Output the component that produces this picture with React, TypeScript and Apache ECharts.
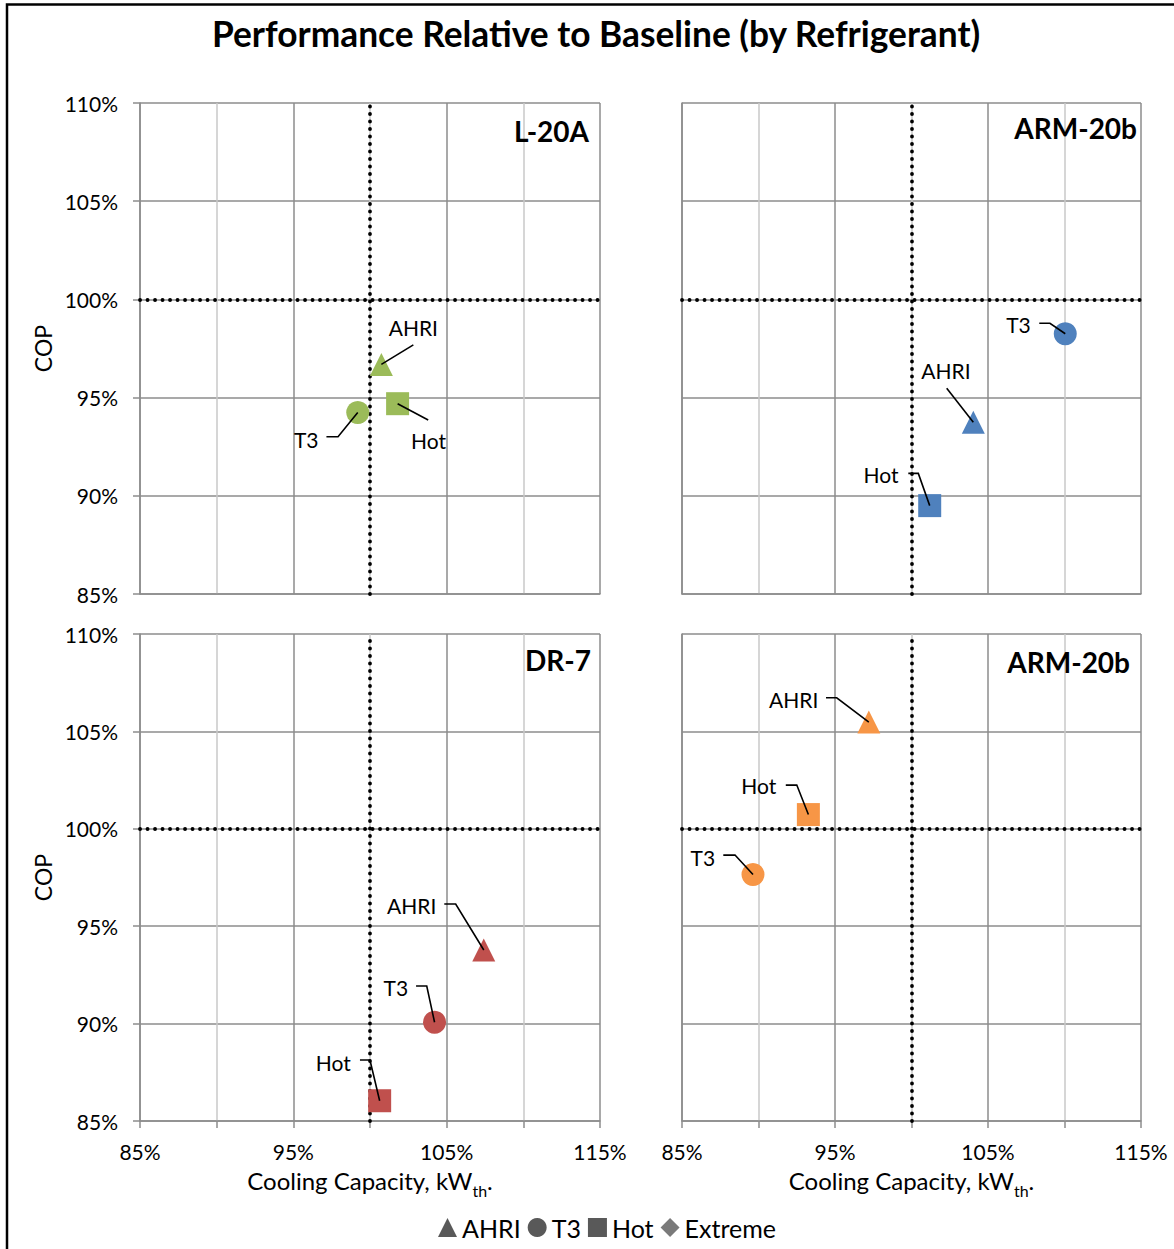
import React, { useEffect, useRef } from 'react';
import * as echarts from 'echarts';

// ---------- data ----------
const conditions = ['AHRI', 'T3', 'Hot'];
const conditionSymbols = ['triangle', 'circle', 'rect'];
const refrigerants = ['L-20A', 'ARM-20b', 'DR-7', 'ARM-20b'];
const panelColors = ['#9BBB59', '#4F81BD', '#C0504D', '#F79646'];

// values per condition, order [AHRI, T3, Hot]
const capacityL20A = [100.74, 99.2, 101.8];
const copL20A = [96.69, 94.24, 94.69];
const capacityARM20bTop = [104.04, 110.05, 101.19];
const copARM20bTop = [93.75, 98.25, 89.5];
const capacityDR7 = [107.42, 104.21, 100.63];
const copDR7 = [93.78, 90.07, 86.04];
const capacityARM20bBottom = [97.21, 89.64, 93.26];
const copARM20bBottom = [105.48, 97.65, 100.73];

const xLabelTicks = [85, 95, 105, 115];
const yLabelTicks = [85, 90, 95, 100, 105, 110];
const legendItems = ['AHRI', 'T3', 'Hot', 'Extreme'];
const legendIcons = ['triangle', 'circle', 'rect', 'diamond'];

const panelCapacity = [capacityL20A, capacityARM20bTop, capacityDR7, capacityARM20bBottom];
const panelCop = [copL20A, copARM20bTop, copDR7, copARM20bBottom];

// ---------- layout / style ----------
const FONT = 'Lato';
const grids = [
  { left: 140, top: 103, width: 460, height: 491 },
  { left: 682, top: 103, width: 459, height: 491 },
  { left: 140, top: 634, width: 460, height: 487 },
  { left: 682, top: 634, width: 459, height: 487 },
];
const panelTitlePos = [
  { right: 585, top: 117 },
  { right: 37, top: 114 },
  { right: 583, top: 646 },
  { right: 44, top: 648 },
];
// label offsets (px) relative to marker, and leader polyline points relative to marker
const labelLayouts = [
  [
    { dx: 32, dy: -37, line: [[32, -19.5], [0, 0]] },
    { dx: -51.5, dy: 26.5, line: [[-31.3, 24.2], [-19.7, 24.2], [0, 0]] },
    { dx: 31, dy: 37, line: [[30.6, 16.3], [0, 0]] },
  ],
  [
    { dx: -27.3, dy: -51.4, line: [[-26.6, -33.9], [0, 0]] },
    { dx: -46.8, dy: -9.3, line: [[-26, -10.5], [-15.3, -10.5], [0, 0]] },
    { dx: -48.7, dy: -30.8, line: [[-21.4, -32.2], [-11.4, -32.2], [0, 0]] },
  ],
  [
    { dx: -72.1, dy: -44.2, line: [[-39.5, -46], [-28.1, -46], [0, 0]] },
    { dx: -38.7, dy: -35, line: [[-18.5, -36.2], [-7.8, -36.2], [0, 0]] },
    { dx: -46.4, dy: -38.3, line: [[-19.7, -40.8], [-9.7, -40.8], [0, 0]] },
  ],
  [
    { dx: -75.1, dy: -22.8, line: [[-42.8, -24.3], [-32.1, -24.3], [0, 0]] },
    { dx: -50.2, dy: -17.5, line: [[-29.7, -19.5], [-18, -19.5], [0, 0]] },
    { dx: -49.6, dy: -28.7, line: [[-22.6, -29.5], [-11.6, -29.5], [0, 0]] },
  ],
];

const GRID_DARK = '#8c8c8c';
const GRID_LIGHT = '#c8c8c8';

function buildOption() {
  const xAxis: any[] = [];
  const yAxis: any[] = [];
  const series: any[] = [];
  const titles: any[] = [
    {
      text: 'Performance Relative to Baseline (by Refrigerant)',
      left: 212,
      top: 16,
      padding: 0,
      textStyle: { fontFamily: FONT, fontSize: 35.3, fontWeight: 'bold', color: '#000' },
    },
  ];

  grids.forEach((g, i) => {
    const bottomRow = i >= 2;
    const leftCol = i % 2 === 0;
    xAxis.push({
      gridIndex: i,
      type: 'value',
      min: 85,
      max: 115,
      interval: 5,
      axisLine: { show: true, lineStyle: { color: GRID_DARK, width: 1.5 } },
      axisTick: { show: bottomRow, length: 7, lineStyle: { color: GRID_DARK, width: 1.5 } },
      axisLabel: {
        show: bottomRow,
        margin: 20,
        fontFamily: FONT,
        fontSize: 21,
        color: '#000',
        formatter: (v: number) => (xLabelTicks.indexOf(Math.round(v)) >= 0 ? Math.round(v) + '%' : ''),
      },
      splitLine: { show: true, lineStyle: { color: [GRID_DARK, GRID_LIGHT], width: 1.5 } },
      name: bottomRow ? '{a|Cooling Capacity, kW}{b|th}{a|.}' : '',
      nameLocation: 'middle',
      nameGap: 47,
      nameTextStyle: {
        rich: {
          a: { fontFamily: FONT, fontSize: 24, color: '#000', lineHeight: 28, verticalAlign: 'top' },
          b: { fontFamily: FONT, fontSize: 16, color: '#000', lineHeight: 19, verticalAlign: 'top', padding: [14, 0, 0, 0] },
        },
      },
    });
    yAxis.push({
      gridIndex: i,
      type: 'value',
      min: 85,
      max: 110,
      interval: 5,
      axisLine: { show: true, lineStyle: { color: GRID_DARK, width: 1.5 } },
      axisTick: { show: leftCol, length: 7, lineStyle: { color: GRID_DARK, width: 1.5 } },
      axisLabel: {
        show: leftCol,
        margin: 22,
        fontFamily: FONT,
        fontSize: 21,
        color: '#000',
        formatter: (v: number) => (yLabelTicks.indexOf(Math.round(v)) >= 0 ? Math.round(v) + '%' : ''),
      },
      splitLine: { show: true, lineStyle: { color: GRID_DARK, width: 1.5 } },
      name: leftCol ? 'COP' : '',
      nameLocation: 'middle',
      nameGap: 86,
      nameTextStyle: { fontFamily: FONT, fontSize: 23, color: '#000' },
    });

    titles.push({
      text: refrigerants[i],
      right: panelTitlePos[i].right,
      top: panelTitlePos[i].top,
      padding: 0,
      textStyle: { fontFamily: FONT, fontSize: 28, fontWeight: 'bold', color: '#000' },
    });

    const caps = panelCapacity[i];
    const cops = panelCop[i];
    conditions.forEach((c, j) => {
      const s: any = {
        type: 'scatter',
        name: c,
        xAxisIndex: i,
        yAxisIndex: i,
        symbol: conditionSymbols[j],
        symbolSize: 23,
        itemStyle: { color: panelColors[i], opacity: 1 },
        emphasis: { disabled: true },
        z: 3,
        data: [[caps[j], cops[j]]],
      };
      if (j === 0) {
        s.markLine = {
          silent: true,
          symbol: ['none', 'none'],
          label: { show: false },
          emphasis: { disabled: true },
          lineStyle: { type: [0.1, 7.4], color: '#000', width: 3.8, cap: 'round' },
          data: [{ xAxis: 100 }, { yAxis: 100 }],
          z: 2,
        };
      }
      series.push(s);
    });

    const layout = labelLayouts[i];
    series.push({
      type: 'custom',
      xAxisIndex: i,
      yAxisIndex: i,
      silent: true,
      z: 5,
      clip: false,
      data: conditions.map((c, j) => [caps[j], cops[j], j]),
      renderItem: (params: any, api: any) => {
        const p = api.coord([api.value(0), api.value(1)]);
        const j = api.value(2);
        const L = layout[j];
        return {
          type: 'group',
          children: [
            {
              type: 'polyline',
              shape: { points: L.line.map((q: number[]) => [p[0] + q[0], p[1] + q[1]]) },
              style: { stroke: '#000', lineWidth: 1.6, fill: null },
            },
            {
              type: 'text',
              x: p[0] + L.dx,
              y: p[1] + L.dy,
              style: {
                text: conditions[j],
                fill: '#000',
                fontFamily: FONT,
                fontSize: 21,
                align: 'center',
                verticalAlign: 'middle',
                textAlign: 'center',
                textVerticalAlign: 'middle',
              },
            },
          ],
        };
      },
    });
  });

  series.push({
    type: 'scatter',
    name: 'Extreme',
    xAxisIndex: 0,
    yAxisIndex: 0,
    symbol: 'diamond',
    symbolSize: 23,
    itemStyle: { color: '#595959' },
    data: [],
  });

  return {
    animation: false,
    backgroundColor: '#fff',
    title: titles,
    grid: grids.map((g) => ({ ...g, containLabel: false, outerBoundsMode: 'none' })),
    xAxis,
    yAxis,
    legend: {
      left: 433,
      top: 1210,
      itemWidth: 19,
      itemHeight: 19,
      itemGap: 7,
      selectedMode: false,
      textStyle: { fontFamily: FONT, fontSize: 25, color: '#000' },
      data: legendItems.map((n, k) => ({
        name: n,
        icon: legendIcons[k],
        itemStyle: { color: '#595959' },
      })),
    },
    graphic: [
      {
        type: 'rect',
        silent: true,
        z: 100,
        shape: { x: 7, y: 4.5, width: 1200, height: 1300 },
        style: { fill: 'none', stroke: '#000', lineWidth: 2.5 },
      },
    ],
    series,
  };
}

export default function App() {
  const ref = useRef<HTMLDivElement>(null);
  useEffect(() => {
    if (!ref.current) return;
    const chart = echarts.init(ref.current, undefined, { renderer: 'svg' });
    chart.setOption(buildOption() as any);
    return () => chart.dispose();
  }, []);
  return (
    <div
      ref={ref}
      style={{ position: 'absolute', left: 0, top: 0, width: 1174, height: 1249, background: '#fff' }}
    />
  );
}
